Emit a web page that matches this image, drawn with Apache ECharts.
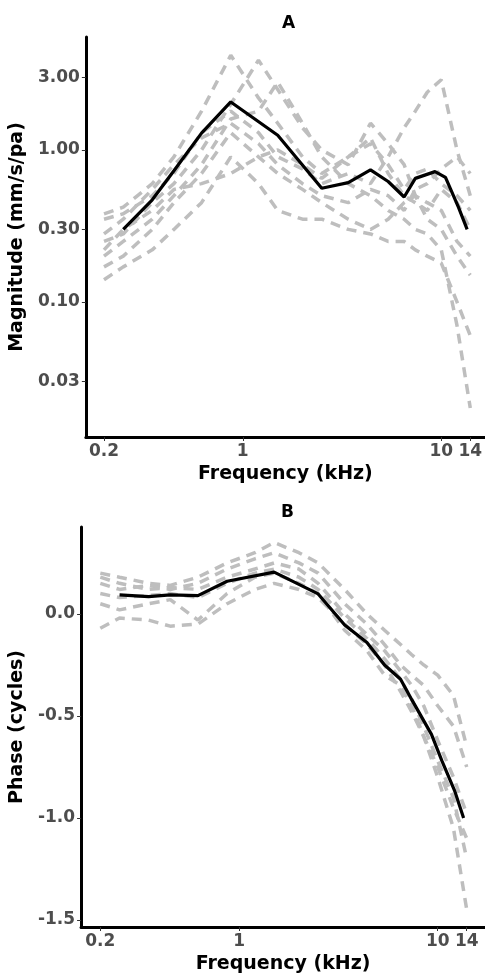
<!DOCTYPE html>
<html><head><meta charset="utf-8">
<script src="https://cdn.jsdelivr.net/npm/echarts@6/dist/echarts.min.js"></script>
<style>html,body{margin:0;padding:0;background:#fff}#c{width:485px;height:980px}</style>
</head><body><div id="c"></div>
<script>
// Frequency grids (kHz)
const freqGrey = [0.2, 0.25, 0.35, 0.45, 0.62, 0.87, 1.2, 1.5, 2, 2.5, 3.4, 4.4, 5.4, 6.5, 7.4, 8.5, 10, 12, 14];
const freqMean = [0.25, 0.35, 0.45, 0.62, 0.87, 1.5, 2.5, 3.4, 4.4, 5.4, 6.5, 7.4, 9.3, 10.5, 12.2, 13.5];

// Panel A: magnitude (mm/s/pa)
const magMean  = [0.30, 0.47, 0.73, 1.29, 2.07, 1.25, 0.56, 0.61, 0.74, 0.62, 0.49, 0.65, 0.72, 0.66, 0.42, 0.30];
const magGrey1 = [0.38, 0.42, 0.60, 0.90, 1.80, 4.20, 2.20, 1.50, 0.90, 0.70, 0.90, 1.10, 0.80, 0.55, 0.70, 0.75, 0.60, 0.50, 0.40];
const magGrey2 = [0.25, 0.28, 0.45, 0.60, 1.00, 2.00, 3.90, 2.50, 1.40, 1.00, 0.80, 1.50, 1.10, 0.80, 0.50, 0.35, 0.30, 0.20, 0.15];
const magGrey3 = [0.20, 0.25, 0.35, 0.50, 0.80, 1.60, 1.80, 2.80, 1.50, 0.90, 0.60, 0.50, 0.40, 0.35, 0.30, 0.28, 0.22, 0.07, 0.02];
const magGrey4 = [0.35, 0.38, 0.50, 0.70, 1.30, 1.80, 1.30, 0.90, 0.75, 0.60, 0.70, 0.60, 0.90, 1.40, 1.80, 2.40, 2.90, 1.00, 0.50];
const magGrey5 = [0.14, 0.17, 0.22, 0.30, 0.45, 0.90, 0.60, 0.40, 0.35, 0.35, 0.30, 0.28, 0.25, 0.25, 0.22, 0.20, 0.18, 0.10, 0.06];
const magGrey6 = [0.17, 0.20, 0.30, 0.45, 0.70, 1.30, 0.90, 0.70, 0.55, 0.45, 0.35, 0.30, 0.35, 0.45, 0.50, 0.45, 0.40, 0.25, 0.20];
const magGrey7 = [0.28, 0.35, 0.55, 0.80, 1.20, 1.50, 1.10, 0.80, 0.60, 0.50, 0.45, 0.55, 0.50, 0.40, 0.55, 0.60, 0.75, 0.90, 0.70];
const magGrey8 = [0.22, 0.30, 0.40, 0.55, 0.60, 0.70, 0.90, 1.00, 0.80, 0.65, 0.90, 1.20, 0.70, 0.50, 0.45, 0.40, 0.55, 0.45, 0.30];

// Panel B: phase (cycles)
const phaseMean  = [0.093, 0.085, 0.093, 0.09, 0.16, 0.205, 0.098, -0.054, -0.14, -0.25, -0.32, -0.42, -0.59, -0.72, -0.87, -1.0];
const phaseGrey1 = [0.20, 0.18, 0.15, 0.14, 0.18, 0.25, 0.30, 0.35, 0.30, 0.25, 0.12, 0.00, -0.08, -0.15, -0.20, -0.25, -0.30, -0.40, -0.65];
const phaseGrey2 = [0.15, 0.12, 0.14, 0.12, 0.15, 0.22, 0.27, 0.30, 0.25, 0.20, 0.05, -0.05, -0.15, -0.25, -0.30, -0.35, -0.45, -0.55, -0.75];
const phaseGrey3 = [-0.07, -0.02, -0.03, -0.06, -0.05, 0.05, 0.12, 0.15, 0.12, 0.08, -0.05, -0.15, -0.25, -0.38, -0.48, -0.60, -0.80, -1.05, -1.45];
const phaseGrey4 = [0.10, 0.08, 0.09, 0.10, 0.08, 0.15, 0.20, 0.22, 0.18, 0.12, -0.02, -0.12, -0.22, -0.32, -0.42, -0.55, -0.72, -0.90, -1.20];
const phaseGrey5 = [0.05, 0.02, 0.05, 0.07, -0.03, 0.10, 0.18, 0.20, 0.15, 0.10, -0.08, -0.18, -0.30, -0.35, -0.45, -0.60, -0.75, -0.95, -1.10];
const phaseGrey6 = [0.18, 0.15, 0.12, 0.13, 0.12, 0.18, 0.22, 0.25, 0.22, 0.15, 0.00, -0.10, -0.18, -0.28, -0.35, -0.45, -0.62, -0.80, -0.98];

// Tick labels
const xTicks = [0.2, 1, 10, 14];
const magTicks = [0.03, 0.1, 0.3, 1, 3];
const phaseTicks = [-1.5, -1.0, -0.5, 0.0];

const FONT = 'DejaVu Sans';
const pair = (xs, ys) => xs.map((x, i) => [x, ys[i]]);
const grey = (xs, ys, k) => ({
  type: 'line', xAxisIndex: k, yAxisIndex: k, data: pair(xs, ys), symbol: 'none', silent: true,
  lineStyle: { color: '#bebebe', width: 3.5, type: [10, 7] }, z: 2
});
const mean = (xs, ys, k) => ({
  type: 'line', xAxisIndex: k, yAxisIndex: k, data: pair(xs, ys), symbol: 'none', silent: true,
  lineStyle: { color: '#000', width: 3.2 }, z: 3
});
const labelStyle = { fontFamily: FONT, fontWeight: 'bold', fontSize: 17, color: '#4d4d4d' };
const nameStyle = { fontFamily: FONT, fontWeight: 'bold', fontSize: 19, color: '#000' };
const titleStyle = { fontFamily: FONT, fontWeight: 'bold', fontSize: 17, color: '#000' };

function xAxis(k, min, max) {
  return {
    type: 'log', logBase: 10, gridIndex: k, min: min, max: max,
    axisLine: { onZero: false, lineStyle: { color: '#000', width: 3 } },
    axisTick: { show: true, customValues: xTicks, length: 4, lineStyle: { color: '#333', width: 1 } },
    axisLabel: Object.assign({ customValues: xTicks, margin: 6, formatter: v => String(+v) }, labelStyle),
    splitLine: { show: false },
    name: 'Frequency (kHz)', nameLocation: 'middle', nameGap: 28, nameTextStyle: nameStyle
  };
}

const chart = echarts.init(document.getElementById('c'), null, { renderer: 'canvas' });
chart.setOption({
  animation: false,
  backgroundColor: '#fff',
  title: [
    { text: 'A', left: 277, top: 10, textStyle: titleStyle },
    { text: 'B', left: 276, top: 499, textStyle: titleStyle }
  ],
  grid: [
    { left: 83, right: 0, top: 37, height: 400 },
    { left: 78, right: 0, top: 527, height: 400 }
  ],
  xAxis: [xAxis(0, 0.162, 16.6), xAxis(1, 0.160, 17.3)],
  yAxis: [
    {
      type: 'log', logBase: 10, gridIndex: 0, min: 0.0129, max: 5.54,
      axisLine: { show: true, lineStyle: { color: '#000', width: 3 } },
      axisTick: { show: true, customValues: magTicks, length: 4, lineStyle: { color: '#333', width: 1 } },
      axisLabel: Object.assign({ customValues: magTicks, margin: 6, formatter: v => (+v).toFixed(2) }, labelStyle),
      splitLine: { show: false },
      name: 'Magnitude (mm/s/pa)', nameLocation: 'middle', nameGap: 56, nameTextStyle: nameStyle
    },
    {
      type: 'value', gridIndex: 1, min: -1.534, max: 0.426,
      axisLine: { show: true, onZero: false, lineStyle: { color: '#000', width: 3 } },
      axisTick: { show: true, customValues: phaseTicks, length: 4, lineStyle: { color: '#333', width: 1 } },
      axisLabel: Object.assign({ customValues: phaseTicks, margin: 6, formatter: v => (+v).toFixed(1) }, labelStyle),
      splitLine: { show: false },
      name: 'Phase (cycles)', nameLocation: 'middle', nameGap: 51, nameTextStyle: nameStyle
    }
  ],
  series: [
    grey(freqGrey, magGrey1, 0), grey(freqGrey, magGrey2, 0), grey(freqGrey, magGrey3, 0), grey(freqGrey, magGrey4, 0),
    grey(freqGrey, magGrey5, 0), grey(freqGrey, magGrey6, 0), grey(freqGrey, magGrey7, 0), grey(freqGrey, magGrey8, 0),
    mean(freqMean, magMean, 0),
    grey(freqGrey, phaseGrey1, 1), grey(freqGrey, phaseGrey2, 1), grey(freqGrey, phaseGrey3, 1),
    grey(freqGrey, phaseGrey4, 1), grey(freqGrey, phaseGrey5, 1), grey(freqGrey, phaseGrey6, 1),
    mean(freqMean, phaseMean, 1)
  ]
});
</script></body></html>
